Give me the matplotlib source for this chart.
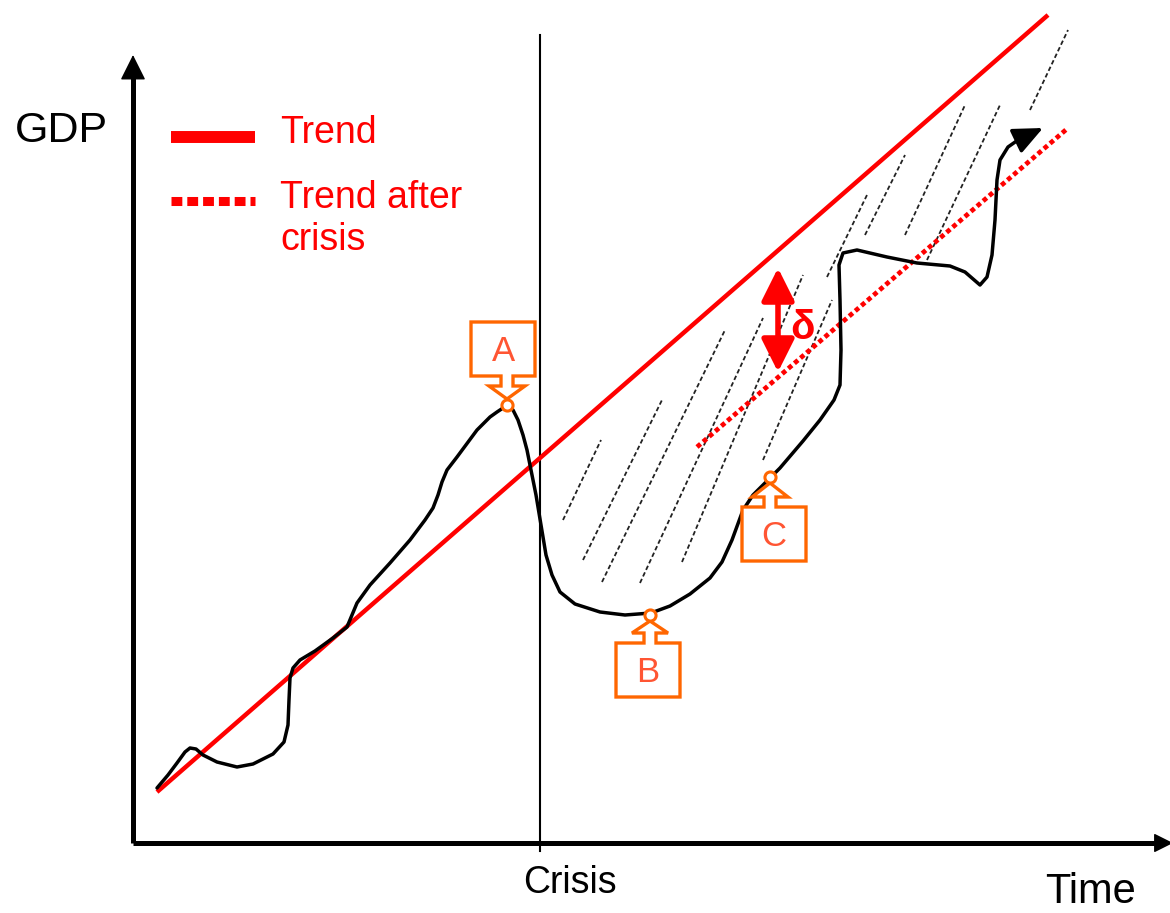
import numpy as np
import matplotlib.pyplot as plt
from matplotlib.patches import Polygon, FancyArrowPatch

# --- GDP path (time, gdp) ---
gdp_t = [24, 35, 44, 52, 57, 63, 70, 84, 104, 120, 140, 151, 155, 156, 157, 160, 167, 182,
         200, 214, 219, 224, 237, 257, 277, 292, 300, 305, 309, 314, 324, 344, 357, 364,
         370, 375, 380, 385, 390, 394, 398, 403, 408, 413, 419, 427, 442, 467, 492, 518,
         537, 557, 577, 589, 599, 610, 620, 637, 647, 670, 687, 701, 707, 708, 707, 706,
         710, 724, 754, 784, 817, 832, 847, 854, 859, 862, 864, 867, 875, 885]
gdp_g = [55, 68, 80, 91, 95, 94, 88, 81, 76, 79, 89, 101, 118, 143, 165, 175, 183, 192,
         205, 216, 228, 240, 258, 280, 303, 323, 335, 348, 361, 373, 386, 413, 426, 431,
         435, 438, 433, 423, 408, 393, 373, 348, 318, 288, 268, 251, 239, 231, 228, 230,
         237, 249, 265, 281, 303, 333, 348, 365, 375, 402, 423, 443, 458, 493, 543, 578,
         590, 593, 586, 580, 577, 571, 558, 566, 588, 623, 663, 683, 696, 703]
gdp_end = (910, 715)

# trend lines
trend_t = [24, 915]
trend_g = [51, 828]
after_t = [564, 935]
after_g = [396, 715]

crisis_t = 407

# turning points A, B, C and their label boxes
pt_labels = ['A', 'B', 'C']
pt_t = [374, 517, 637]
pt_g = [438, 228, 366]
box_t = [370, 515, 641]
box_g = [494, 173, 309]
box_up = [False, True, True]

# hatching between trend and GDP after crisis
hatch_t0 = [430, 450, 469, 507, 549, 630, 694, 732, 772, 794, 897]
hatch_g0 = [323, 283, 261, 260, 281, 383, 566, 608, 608, 583, 733]
hatch_t1 = [468, 529, 592, 630, 670, 699, 734, 772, 832, 867, 935]
hatch_g1 = [403, 443, 513, 525, 568, 543, 648, 688, 738, 738, 813]

# delta gap marker
delta_t = 645
delta_g = [575, 471]

RED = '#FF0000'
ORANGE = '#FF6600'
plt.rcParams['font.family'] = ['Liberation Sans', 'DejaVu Sans']

fig = plt.figure(figsize=(11.7, 9.13), dpi=100)
ax = fig.add_axes([0, 0, 1, 1])
ax.set_xlim(-133, 1037)
ax.set_ylim(-70, 843)
ax.axis('off')

# axes with arrow heads
ax.plot([0, 0], [0, 770], color='black', lw=3.6, solid_capstyle='butt')
ax.plot([0, 1030], [0, 0], color='black', lw=3.6, solid_capstyle='butt')
ax.add_patch(FancyArrowPatch((0, 760), (0, 788), arrowstyle='-|>,head_length=16,head_width=8',
                             mutation_scale=1, color='black', lw=1, shrinkA=0, shrinkB=0))
ax.add_patch(FancyArrowPatch((1020, 0), (1040, 0), arrowstyle='-|>,head_length=12,head_width=6',
                             mutation_scale=1, color='black', lw=1, shrinkA=0, shrinkB=0))

# crisis marker
ax.plot([crisis_t, crisis_t], [-8, 808], color='black', lw=1.5)

# hatching
for t0, g0, t1, g1 in zip(hatch_t0, hatch_g0, hatch_t1, hatch_g1):
    ax.plot([t0, t1], [g0, g1], color='#222222', lw=1.3, ls=(0, (2.5, 1.5)))

# trends
ax.plot(trend_t, trend_g, color=RED, lw=3.2, solid_capstyle='butt')
ax.plot(after_t, after_g, color=RED, lw=3.4, ls=(0, (1, 0.7)), dash_capstyle='butt')

# GDP
ax.plot(gdp_t, gdp_g, color='black', lw=2.5, solid_joinstyle='round', solid_capstyle='round')
ax.add_patch(FancyArrowPatch((gdp_t[-1], gdp_g[-1]), gdp_end,
                             arrowstyle='-|>,head_length=18,head_width=8',
                             mutation_scale=1, color='black', lw=2.5, shrinkA=0, shrinkB=0))

# callouts
w, h, s, a = 32, 27, 6, 18
for lab, px, py, cx, cy, up in zip(pt_labels, pt_t, pt_g, box_t, box_g, box_up):
    sg = 1 if up else -1
    near = cy + sg * h
    far = cy - sg * h
    wing = near + sg * 10
    tip = py - sg * 6
    verts = [(cx - w, far), (cx + w, far), (cx + w, near), (px + s, near), (px + s, wing),
             (px + a, wing), (px, tip), (px - a, wing), (px - s, wing), (px - s, near),
             (cx - w, near)]
    ax.add_patch(Polygon(verts, closed=True, facecolor='white', edgecolor=ORANGE,
                         lw=2.4, joinstyle='miter', zorder=4))
    ax.plot(px, py, marker='o', ms=8, mfc='white', mec=ORANGE, mew=2.2, zorder=5)
    ax.text(cx, cy - 2, lab, ha='center', va='center', fontsize=25, color='#FF5533', zorder=6)

# gap arrow
ax.add_patch(FancyArrowPatch((delta_t, delta_g[0]), (delta_t, delta_g[1]),
                             arrowstyle='<|-|>,head_length=20,head_width=10',
                             mutation_scale=1, color=RED, lw=4, shrinkA=0, shrinkB=0, zorder=5))
ax.text(delta_t + 25, 515, 'δ', ha='center', va='center', fontsize=29,
        fontweight='bold', color=RED, zorder=6)

# legend
ax.plot([38, 122], [706, 706], color=RED, lw=8.6, solid_capstyle='butt')
ax.plot([38, 122], [642, 642], color=RED, lw=6.5, ls=(0, (1.2, 0.55)), dash_capstyle='butt')
ax.text(147, 700, 'Trend', fontsize=27, color=RED, va='baseline')
ax.text(147, 635, 'Trend after', fontsize=27, color=RED, va='baseline')
ax.text(147, 593, 'crisis', fontsize=27, color=RED, va='baseline')

# labels
ax.text(-118, 701, 'GDP', fontsize=31, va='baseline')
ax.text(437, -50, 'Crisis', fontsize=27, ha='center', va='baseline')
ax.text(912, -60, 'Time', fontsize=30, va='baseline')

fig.savefig('out.png', dpi=100)
